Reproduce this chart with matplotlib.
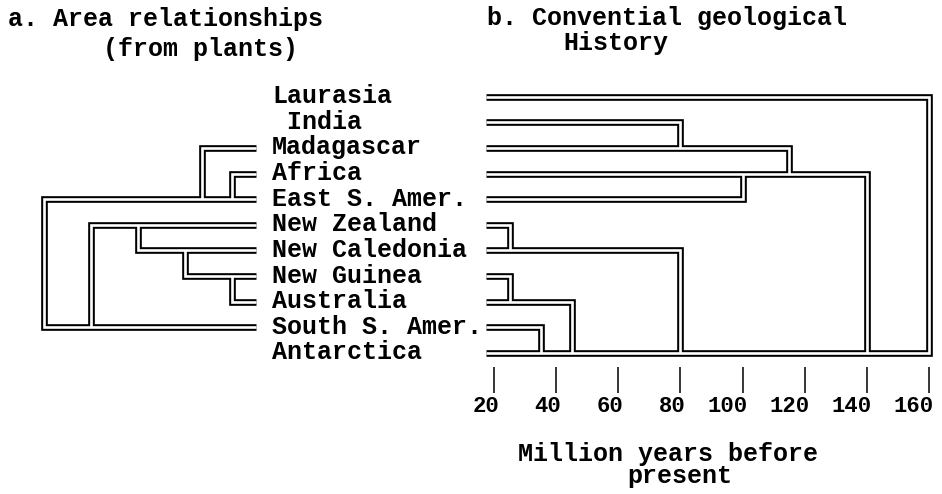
import matplotlib.pyplot as plt
from matplotlib.transforms import blended_transform_factory, ScaledTranslation

# leaf areas, top to bottom (leading space on India is in the original)
areas = ["Laurasia", " India", "Madagascar", "Africa", "East S. Amer.",
         "New Zealand", "New Caledonia", "New Guinea", "Australia",
         "South S. Amer.", "Antarctica"]

# a. area cladogram from plants: child joins parent's line at a level
left_child = ["Madagascar", "Africa", "New Caledonia", "New Guinea",
              "Australia", "New Zealand", "East S. Amer."]
left_parent = ["East S. Amer.", "East S. Amer.", "New Zealand",
               "New Caledonia", "New Guinea", "South S. Amer.",
               "South S. Amer."]
left_level = [3.36, 4.0, 2.0, 3.0, 4.0, 1.0, 0.0]
left_trunk = "South S. Amer."
left_tip = 4.51

# b. conventional geological history (million years before present)
right_child = ["India", "Madagascar", "East S. Amer.", "Africa",
               "New Zealand", "New Caledonia", "New Guinea", "Australia",
               "South S. Amer.", "Laurasia"]
right_parent = ["Madagascar", "Africa", "Africa", "Antarctica",
                "New Caledonia", "Antarctica", "Australia", "Antarctica",
                "Antarctica", "Antarctica"]
right_age = [80, 115, 100, 140, 25, 80, 25, 45, 35, 160]
right_trunk = "Antarctica"
right_tip = 17.4

ticks = [20, 40, 60, 80, 100, 120, 140, 160]

FONT = "Liberation Mono"
W = 1 / 942
H = 1 / 494

row = {a.strip(): i for i, a in enumerate(areas)}


def draw_tree(ax, children, parents, xs, tip, trunk, root_x):
    paths = []
    for c, p, x in zip(children, parents, xs):
        pts = [(tip, row[c]), (x, row[c]), (x, row[p])]
        if p == trunk and x == root_x:
            pts.append((tip, row[p]))  # trunk drawn as the return leg
        paths.append(pts)
    for lw, col in [(4.8, "black"), (1.9, "white")]:
        for pts in paths:
            xx, yy = zip(*pts)
            ax.plot(xx, yy, color=col, lw=lw, solid_joinstyle="miter",
                    solid_capstyle="butt")


fig = plt.figure(figsize=(9.42, 4.94), dpi=100)
bottom = 1 - 393 * H
height = (393 - 80) * H
ylim = (11.56, -0.652)

ax_l = fig.add_axes([20.5 * W, bottom, 239.7 * W, height])
ax_l.set_xlim(-0.5, 4.6)
ax_l.set_ylim(*ylim)
ax_l.axis("off")
draw_tree(ax_l, left_child, left_parent, left_level, left_tip,
          left_trunk, min(left_level))

ax_r = fig.add_axes([478.46 * W, bottom, 459.84 * W, height])
ax_r.set_xlim(15, 163)
ax_r.set_ylim(*ylim)
draw_tree(ax_r, right_child, right_parent, right_age, right_tip,
          right_trunk, max(right_age))
for s in ax_r.spines.values():
    s.set_visible(False)
ax_r.set_yticks([])
ax_r.set_xticks(ticks)
ax_r.set_xticklabels([str(t) for t in ticks], fontfamily=FONT,
                     fontsize=16, fontweight="bold")
ax_r.tick_params(axis="x", direction="in", length=18.7, width=1.1, pad=2)
# labels sit right-aligned just past their tick, as in a typed scale
shift = ScaledTranslation(5 / 100, 0, fig.dpi_scale_trans)
for lab in ax_r.get_xticklabels():
    lab.set_horizontalalignment("right")
    lab.set_transform(lab.get_transform() + shift)

# leaf labels between the two trees
tr = blended_transform_factory(fig.transFigure, ax_r.transData)
for i, a in enumerate(areas):
    ax_r.text(272 * W, i + 0.25, a, transform=tr, ha="left", va="baseline",
              fontfamily=FONT, fontsize=18, fontweight="bold", clip_on=False)

txt = dict(fontfamily=FONT, fontsize=18, fontweight="bold", ha="left",
           va="baseline")
fig.text(8 * W, 1 - 26 * H, "a. Area relationships", **txt)
fig.text(103 * W, 1 - 56 * H, "(from plants)", **txt)
fig.text(487 * W, 1 - 25 * H, "b. Convential geological", **txt)
fig.text(563 * W, 1 - 50 * H, "History", **txt)
fig.text(518 * W, 1 - 461 * H, "Million years before", **txt)
fig.text(627 * W, 1 - 483 * H, "present", **txt)

fig.savefig("out.png", dpi=100)
